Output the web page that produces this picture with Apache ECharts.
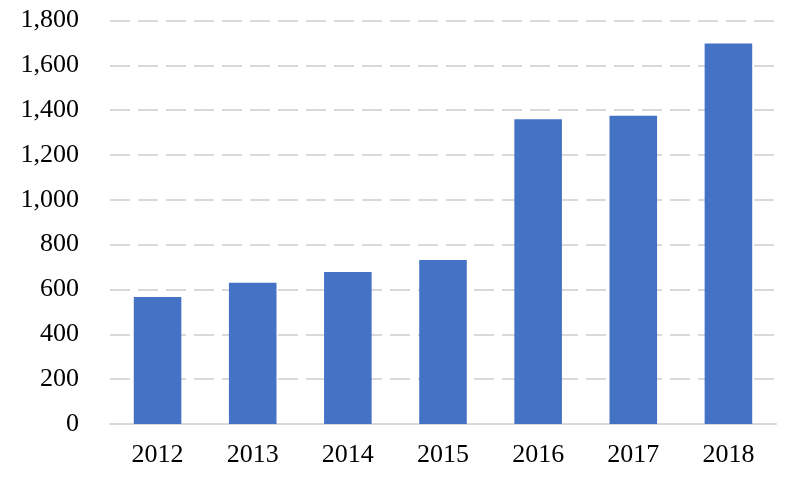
<!DOCTYPE html>
<html><head><meta charset="utf-8">
<script src="https://cdn.jsdelivr.net/npm/echarts@6/dist/echarts.min.js"></script>
<style>html,body{margin:0;padding:0;background:#fff}#c{width:800px;height:481px}</style>
</head><body><div id="c"></div>
<script>
const categories = ['2012','2013','2014','2015','2016','2017','2018'];
const values = [567, 630, 678, 732, 1359, 1375, 1697];
const yTicks = [0, 200, 400, 600, 800, 1000, 1200, 1400, 1600, 1800];

const chart = echarts.init(document.getElementById('c'), null, {renderer:'canvas'});
chart.setOption({
  animation: false,
  backgroundColor: '#fff',
  grid: {left: 110, right: 24, top: 20.5, bottom: 57, containLabel: false},
  xAxis: {
    type: 'category', data: categories,
    axisLine: {lineStyle: {color: '#d9d9d9', width: 2}},
    axisTick: {show: false},
    axisLabel: {fontFamily: '"Liberation Serif", "Times New Roman", serif', fontSize: 26, color: '#000', margin: 18}
  },
  yAxis: {
    type: 'value', min: yTicks[0], max: yTicks[yTicks.length-1], interval: 200,
    axisLine: {show: false}, axisTick: {show: false},
    splitLine: {lineStyle: {color: '#d9d9d9', width: 2, type: [20, 8]}},
    axisLabel: {
      fontFamily: '"Liberation Serif", "Times New Roman", serif', fontSize: 26, color: '#000', margin: 31,
      formatter: v => v.toLocaleString('en-US')
    }
  },
  series: [{
    type: 'bar', data: values, barWidth: '50%',
    itemStyle: {color: '#4472C4'}
  }]
});
</script></body></html>
